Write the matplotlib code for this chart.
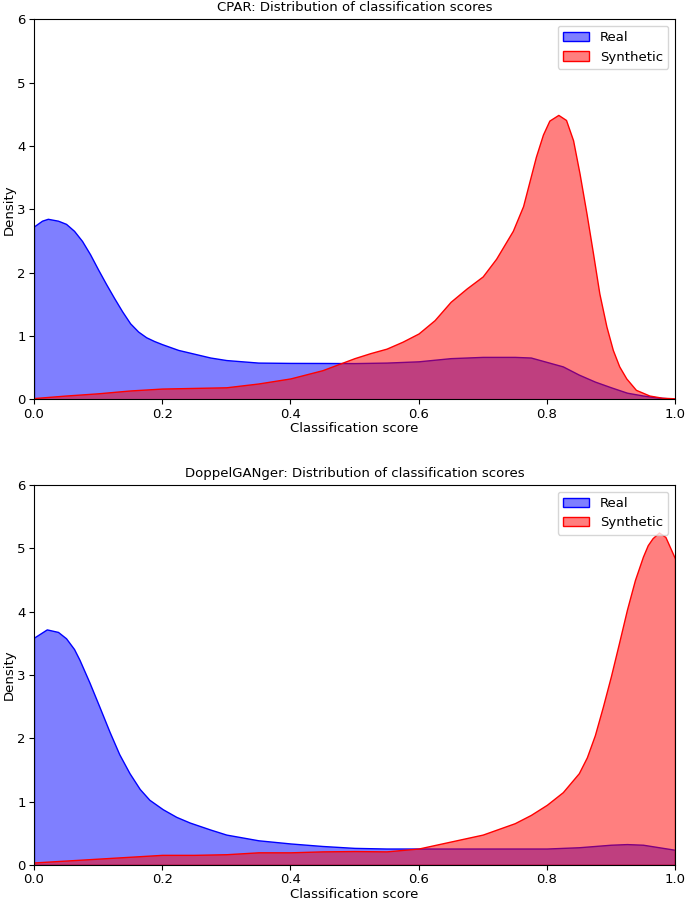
import matplotlib
matplotlib.use('Agg')
import matplotlib.pyplot as plt

# classification score densities
cpar_real_x = [0, 0.0125, 0.0216, 0.0375, 0.05, 0.0625, 0.075, 0.0875, 0.1, 0.1125, 0.125, 0.1375,
               0.15, 0.1625, 0.175, 0.1875, 0.2, 0.225, 0.25, 0.275, 0.3, 0.35, 0.4, 0.45, 0.5,
               0.55, 0.6, 0.65, 0.7, 0.75, 0.775, 0.8, 0.825, 0.85, 0.875, 0.9, 0.925, 0.95, 0.975, 1.0]
cpar_real_y = [2.73, 2.82, 2.85, 2.82, 2.77, 2.66, 2.50, 2.29, 2.05, 1.82, 1.60, 1.39,
               1.20, 1.07, 0.98, 0.92, 0.87, 0.78, 0.72, 0.66, 0.62, 0.58, 0.575, 0.574, 0.572,
               0.58, 0.6, 0.65, 0.67, 0.67, 0.66, 0.59, 0.52, 0.39, 0.28, 0.19, 0.105, 0.06, 0.026, 0.01]

cpar_syn_x = [0, 0.05, 0.1, 0.15, 0.2, 0.25, 0.3, 0.35, 0.4, 0.45, 0.5, 0.525, 0.55, 0.575, 0.6,
              0.625, 0.65, 0.675, 0.7, 0.721, 0.747, 0.763, 0.773, 0.783, 0.794, 0.804, 0.818,
              0.830, 0.841, 0.851, 0.862, 0.872, 0.882, 0.893, 0.903, 0.913, 0.924, 0.939, 0.96, 0.98, 1.0]
cpar_syn_y = [0.02, 0.06, 0.095, 0.14, 0.17, 0.18, 0.19, 0.25, 0.33, 0.46, 0.65, 0.73, 0.8, 0.91, 1.04,
              1.25, 1.54, 1.75, 1.94, 2.22, 2.66, 3.05, 3.44, 3.83, 4.18, 4.40, 4.49,
              4.41, 4.09, 3.57, 2.93, 2.31, 1.67, 1.15, 0.78, 0.52, 0.33, 0.15, 0.06, 0.025, 0.016]

dg_real_x = [0, 0.02, 0.0375, 0.05, 0.0625, 0.071, 0.0866, 0.102, 0.118, 0.133, 0.149, 0.165,
             0.18, 0.201, 0.222, 0.243, 0.275, 0.3, 0.35, 0.4, 0.45, 0.5, 0.55, 0.6, 0.7, 0.8,
             0.85, 0.9, 0.925, 0.95, 0.975, 1.0]
dg_real_y = [3.59, 3.72, 3.68, 3.58, 3.41, 3.24, 2.88, 2.50, 2.10, 1.75, 1.45, 1.20,
             1.03, 0.88, 0.76, 0.67, 0.56, 0.48, 0.39, 0.34, 0.30, 0.27, 0.26, 0.26, 0.26, 0.26,
             0.28, 0.32, 0.33, 0.32, 0.28, 0.24]

dg_syn_x = [0, 0.1, 0.2, 0.25, 0.3, 0.35, 0.4, 0.45, 0.5, 0.55, 0.6, 0.65, 0.7, 0.75, 0.775, 0.8,
            0.825, 0.85, 0.8625, 0.875, 0.8875, 0.9, 0.9125, 0.925, 0.9375, 0.95, 0.9575, 0.965,
            0.975, 0.985, 1.0]
dg_syn_y = [0.04, 0.1, 0.16, 0.16, 0.17, 0.2, 0.2, 0.215, 0.22, 0.215, 0.26, 0.37, 0.48, 0.66, 0.79, 0.95,
            1.15, 1.45, 1.70, 2.05, 2.50, 2.98, 3.50, 4.03, 4.50, 4.87, 5.05, 5.16,
            5.25, 5.18, 4.84]

panels = [
    ('CPAR', cpar_real_x, cpar_real_y, cpar_syn_x, cpar_syn_y),
    ('DoppelGANger', dg_real_x, dg_real_y, dg_syn_x, dg_syn_y),
]

plt.rcParams['font.size'] = 9.5

fig = plt.figure(figsize=(6.85, 9), dpi=100)
ax_top = fig.add_axes([0.0496, 0.5563, 0.9358, 0.4223])
ax_bot = fig.add_axes([0.0496, 0.0389, 0.9358, 0.4222])

for ax, (name, rx, ry, sx, sy) in zip([ax_top, ax_bot], panels):
    ax.fill_between(rx, ry, 0, facecolor=(0, 0, 1, 0.5), edgecolor='blue', linewidth=1, label='Real')
    ax.fill_between(sx, sy, 0, facecolor=(1, 0, 0, 0.5), edgecolor='red', linewidth=1, label='Synthetic')
    ax.set_xlim(0, 1)
    ax.set_ylim(0, 6)
    ax.set_title(name + ': Distribution of classification scores', fontsize=9.5)
    ax.set_xlabel('Classification score', labelpad=1)
    ax.set_ylabel('Density', labelpad=1)
    ax.tick_params(pad=2.5)
    ax.legend(loc='upper right')

fig.savefig('out.png', dpi=100)
